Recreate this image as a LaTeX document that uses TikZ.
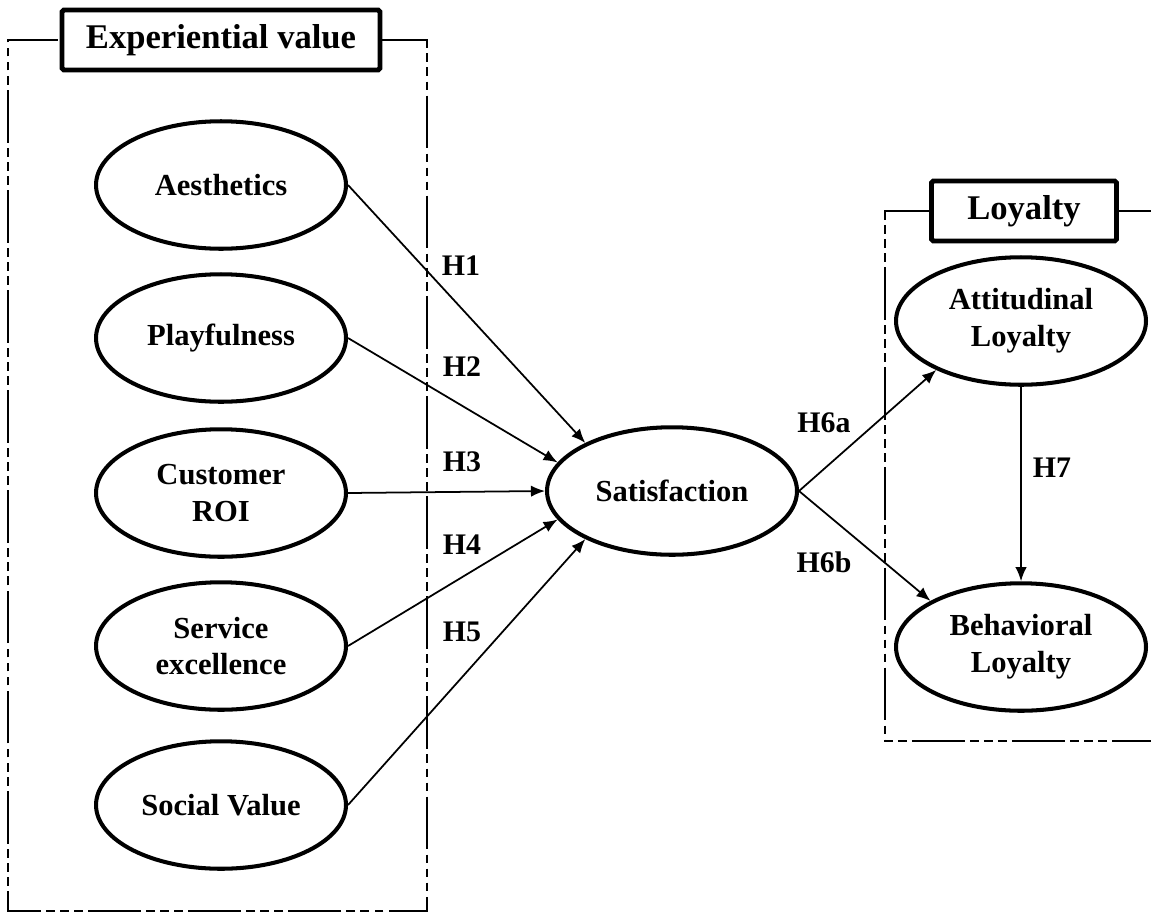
\documentclass[tikz,border=0pt]{standalone}
\usepackage{fontspec}
\setmainfont{Liberation Serif}
\usetikzlibrary{arrows.meta,shapes.geometric}
\tikzset{
  cnode/.style={ellipse,draw=black,line width=2.3pt,minimum width=5cm,minimum height=2.55cm,inner sep=0pt,align=center,font=\fontsize{17.4}{21}\selectfont\bfseries}, % construct
  tbox/.style={draw=black,line width=2.8pt,rounded corners=1pt,fill=white,minimum height=1.2cm,inner sep=0pt,font=\fontsize{19.7}{23}\selectfont\bfseries}, % group title
  grp/.style={line width=1.5pt,dash pattern=on 30pt off 3pt on 5pt off 3pt on 5pt off 3pt on 5pt off 3pt},
  hyp/.style={-{Latex[length=8pt,width=6.5pt]},line width=1pt},
  hlab/.style={font=\fontsize{17}{20}\selectfont\bfseries},
}

\begin{document}
\begin{tikzpicture}[x=0.02cm,y=-0.02cm]
  \useasboundingbox (0,0) rectangle (1151,913);
  \clip (0,0) rectangle (1151,913);
  % experiential value group
  \node[tbox,minimum width=6.36cm] (evtitle) at (221,40) {Experiential value};
  \draw[grp] (evtitle.east) -- (427,40) -- (427,911) -- (8,911) -- (8,40) -- (evtitle.west);
  \node[cnode] (aes)  at (221,185) {Aesthetics};
  \node[cnode] (play) at (221,338) {Playfulness};
  \node[cnode] (roi)  at (221,493) {Customer\\ROI};
  \node[cnode] (serv) at (221,646) {Service\\excellence};
  \node[cnode] (soc)  at (221,805) {Social Value};
  % mediator
  \node[cnode] (sat) at (672,491) {Satisfaction};
  % loyalty group
  \node[tbox,minimum width=3.7cm] (loytitle) at (1024,211) {Loyalty};
  \draw[grp] (loytitle.west) -- (885,211) -- (885,741) -- (1170,741);
  \draw[grp] (loytitle.east) -- (1170,211);
  \node[cnode] (att) at (1021,321) {Attitudinal\\Loyalty};
  \node[cnode] (beh) at (1021,647) {Behavioral\\Loyalty};
  % paths
  \draw[hyp] (aes.east)  -- (sat.151);
  \draw[hyp] (play.east) -- (sat.166);
  \draw[hyp] (roi.east)  -- (sat.west);
  \draw[hyp] (serv.east) -- (sat.194);
  \draw[hyp] (soc.east)  -- (sat.209);
  \draw[hyp] (sat.east) -- (att.210);
  \draw[hyp] (sat.east) -- (beh.153);
  \draw[hyp] (att.south) -- (beh.north);
  % hypothesis labels
  \node[hlab] (h1) at (461,266) {H1};
  \node[hlab] (h2) at (462,367) {H2};
  \node[hlab] (h3) at (462,462) {H3};
  \node[hlab] (h4) at (462,545) {H4};
  \node[hlab] (h5) at (462,632) {H5};
  \node[hlab] (h6a) at (824,423) {H6a};
  \node[hlab] (h6b) at (824,562) {H6b};
  \node[hlab] (h7) at (1052,468) {H7};
\end{tikzpicture}
\end{document}
